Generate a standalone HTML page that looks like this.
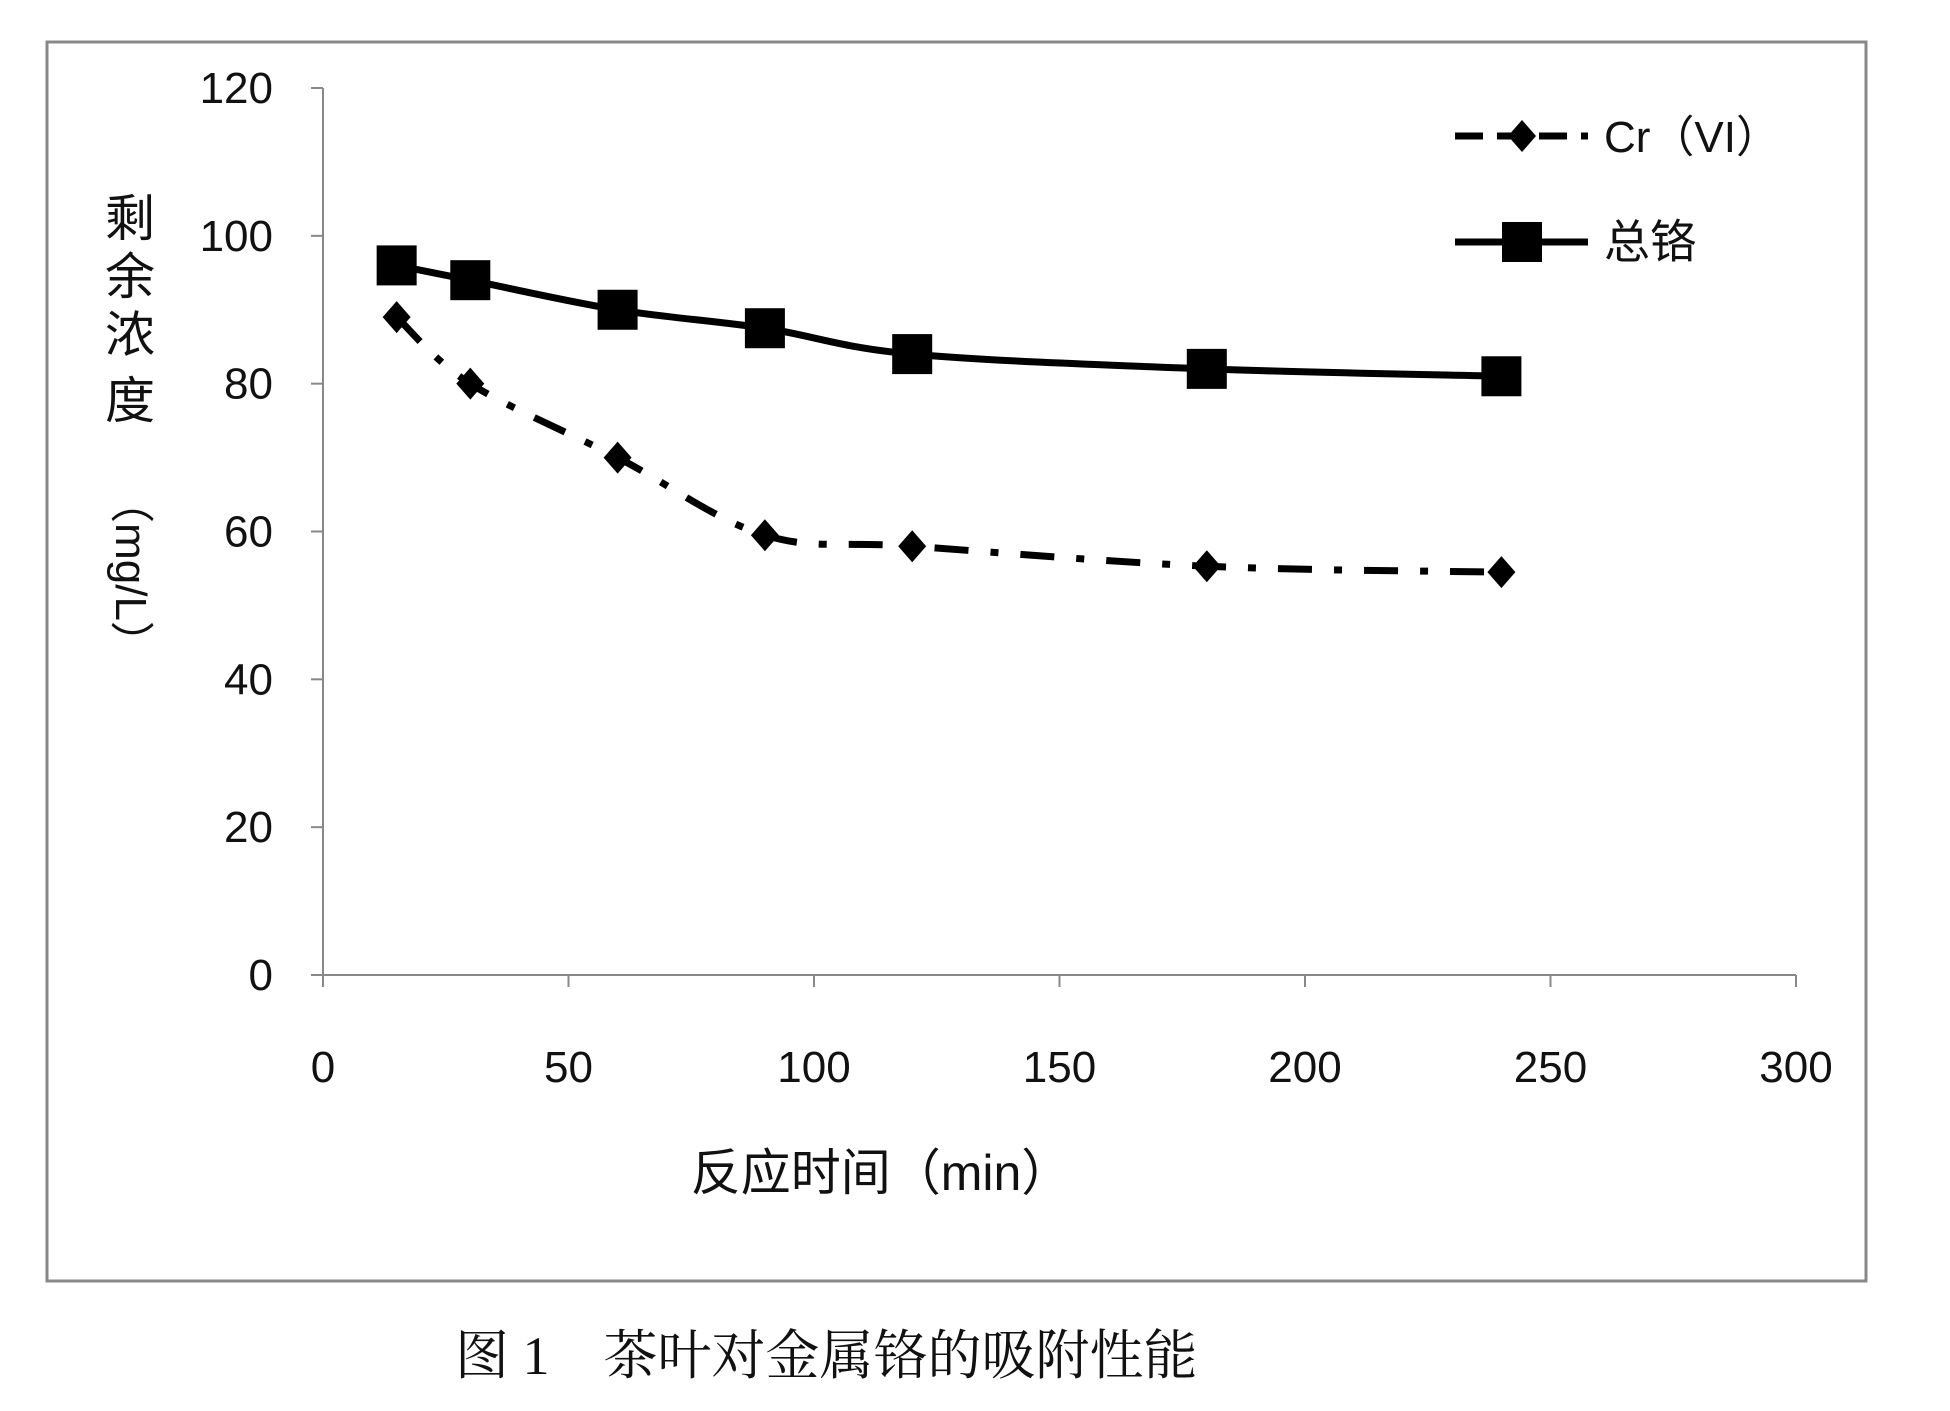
<!DOCTYPE html>
<html><head><meta charset="utf-8"><style>
html,body{margin:0;padding:0;background:#fff}
svg{display:block}
text{font-family:"Liberation Sans","Noto Sans CJK SC",sans-serif;fill:#111}
</style></head><body>
<svg id="chart" width="1950" height="1411" viewBox="0 0 1950 1411" xmlns="http://www.w3.org/2000/svg">
<rect x="47" y="42" width="1819" height="1239" fill="#fff" stroke="#888" stroke-width="3"/>
<g id="axes"></g>
<g id="series"></g>
<g>
<text x="130" y="236" font-size="50" text-anchor="middle">剩</text>
<text x="130" y="294" font-size="50" text-anchor="middle">余</text>
<text x="130" y="352" font-size="50" text-anchor="middle">浓</text>
<text x="130" y="418" font-size="50" text-anchor="middle">度</text>
<text transform="translate(116,572) rotate(90)" font-size="44" text-anchor="middle">（mg/L）</text>
</g>
<text x="881" y="1190" font-size="50" text-anchor="middle">反应时间（min）</text>
<g>
<g>
<line x1="1455" y1="136" x2="1588" y2="136" stroke="#000" stroke-width="7" stroke-dasharray="28,14"/>
<polygon points="1522,120 1536,136 1522,152 1508,136" fill="#000"/>
<text x="1604" y="152" font-size="44">Cr（VI）</text>
</g>
<g>
<line x1="1455" y1="242" x2="1588" y2="242" stroke="#000" stroke-width="7"/>
<rect x="1502" y="222" width="40" height="40" fill="#000"/>
<text x="1604" y="258" font-size="46">总铬</text>
</g>
</g>
<text x="455" y="1374" font-size="54" style="font-family:'Liberation Serif','Noto Serif CJK SC',serif">图 1　茶叶对金属铬的吸附性能</text>
</svg>
<script>
const xValues=[15,30,60,90,120,180,240];
const crVI=[89,80,70,59.5,58,55.3,54.5];
const totalCr=[96,94,90,87.5,84,82,81];
const xTicks=[0,50,100,150,200,250,300];
const yTicks=[0,20,40,60,80,100,120];
var NS="http://www.w3.org/2000/svg";
function X(v){return 323+(v/300)*(1796-323);}
function Y(v){return 975-(v/120)*(975-88);}
function mk(tag,attrs,parent){var e=document.createElementNS(NS,tag);for(var k in attrs)e.setAttribute(k,attrs[k]);parent.appendChild(e);return e;}
var axes=document.getElementById('axes');
var ya=mk('line',{x1:X(0),y1:Y(0),x2:X(0),y2:Y(120),stroke:'#888','stroke-width':2},axes);


var xa=mk('line',{x1:X(0),y1:Y(0),x2:X(300),y2:Y(0),stroke:'#888','stroke-width':2},axes);


yTicks.forEach(function(t){
 mk('line',{x1:X(0)-12,y1:Y(t),x2:X(0),y2:Y(t),stroke:'#888','stroke-width':2},axes);
 var tx=mk('text',{x:273,y:Y(t)+15,'font-size':44,'text-anchor':'end'},axes);
 tx.textContent=t;
 
 
});
xTicks.forEach(function(t){
 mk('line',{x1:X(t),y1:Y(0),x2:X(t),y2:Y(0)+12,stroke:'#888','stroke-width':2},axes);
 var tx=mk('text',{x:X(t),y:1082,'font-size':44,'text-anchor':'middle'},axes);
 tx.textContent=t;
 
 
});
function smooth(pts){var d='M'+pts[0][0]+','+pts[0][1];for(var i=0;i<pts.length-1;i++){var p0=pts[i-1]||pts[i],p1=pts[i],p2=pts[i+1],p3=pts[i+2]||p2;var c1=[p1[0]+(p2[0]-p0[0])/6,p1[1]+(p2[1]-p0[1])/6],c2=[p2[0]-(p3[0]-p1[0])/6,p2[1]-(p3[1]-p1[1])/6];d+=' C'+c1[0]+','+c1[1]+' '+c2[0]+','+c2[1]+' '+p2[0]+','+p2[1];}return d;}
var ser=document.getElementById('series');
var p1=mk('path',{d:smooth(xValues.map(function(x,i){return [X(x),Y(totalCr[i])];})),fill:'none',stroke:'#000','stroke-width':7},ser);


var p2=mk('path',{d:smooth(xValues.map(function(x,i){return [X(x),Y(crVI[i])];})),fill:'none',stroke:'#000','stroke-width':7,'stroke-dasharray':'34,22,8,22'},ser);


xValues.forEach(function(x,i){
 var r=mk('rect',{x:X(x)-20,y:Y(totalCr[i])-20,width:40,height:40,fill:'#000'},ser);
 
 
 var cx=X(x),cy=Y(crVI[i]);
 var d=mk('polygon',{points:cx+','+(cy-16)+' '+(cx+14)+','+cy+' '+cx+','+(cy+16)+' '+(cx-14)+','+cy,fill:'#000'},ser);
 
 
});
</script>
</body></html>
